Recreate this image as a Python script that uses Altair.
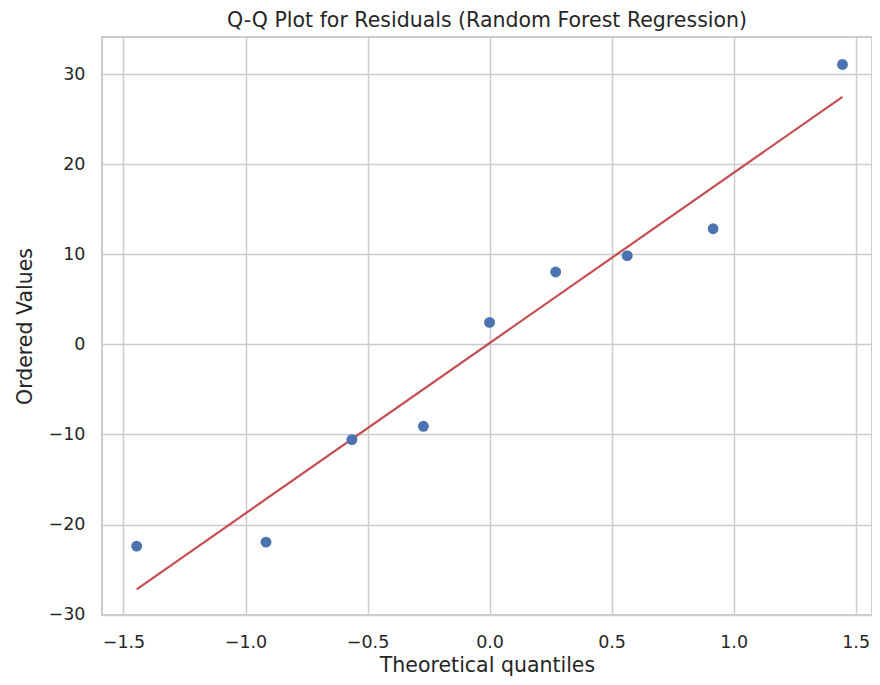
import altair as alt
import pandas as pd

# Q-Q data
theoretical_quantiles = [-1.446, -0.916, -0.564, -0.271, 0.0, 0.271, 0.564, 0.916, 1.446]
ordered_values = [-22.4, -21.96, -10.57, -9.09, 2.45, 8.05, 9.86, 12.85, 31.1]

# fitted reference line end points
fit_x = [-1.446, 1.446]
fit_y = [-27.2, 27.5]

x_ticks = [-1.5, -1.0, -0.5, 0.0, 0.5, 1.0, 1.5]
y_ticks = [-30, -20, -10, 0, 10, 20, 30]

points_df = pd.DataFrame({"q": theoretical_quantiles, "v": ordered_values})
line_df = pd.DataFrame({"q": fit_x, "v": fit_y})

TEXT = "#262626"
FONT = "DejaVu Sans"

x_enc = alt.X(
    "q:Q",
    scale=alt.Scale(domain=[-1.588, 1.567], nice=False, zero=False),
    axis=alt.Axis(
        values=x_ticks, format=".1f", title="Theoretical quantiles",
        ticks=False, tickSize=0, domain=False, labelPadding=18,
        titleY=56, titleBaseline="alphabetic",
    ),
)
y_enc = alt.Y(
    "v:Q",
    scale=alt.Scale(domain=[-30.05, 34.15], nice=False, zero=False),
    axis=alt.Axis(
        values=y_ticks, format="d", title="Ordered Values",
        ticks=False, tickSize=0, domain=False, labelPadding=17,
        titleX=-71, titleBaseline="alphabetic",
    ),
)

points = alt.Chart(points_df).mark_circle(
    size=118, color="#4C72B0", opacity=1
).encode(x=x_enc, y=y_enc)

line = alt.Chart(line_df).mark_line(
    color="#C44E52", strokeWidth=2.2
).encode(x="q:Q", y="v:Q")

chart = (
    alt.layer(line, points)
    .properties(
        width=770,
        height=578,
        title=alt.TitleParams(
            "Q-Q Plot for Residuals (Random Forest Regression)",
            font=FONT, fontSize=20.5, fontWeight="normal", color=TEXT,
            offset=6,
        ),
        autosize=alt.AutoSizeParams(type="none"),
        padding={"left": 94, "top": 29, "right": 0, "bottom": 62},
    )
    .configure_view(stroke="#cccccc", strokeWidth=2)
    .configure_axis(
        labelFont=FONT, labelFontSize=17.5, labelColor=TEXT,
        titleFont=FONT, titleFontSize=20.5, titleColor=TEXT, titleFontWeight="normal",
        gridColor="#cccccc", gridWidth=1.5, gridOpacity=1,
    )
)

chart.save("out.html", embed_options={"renderer": "svg", "actions": False})
